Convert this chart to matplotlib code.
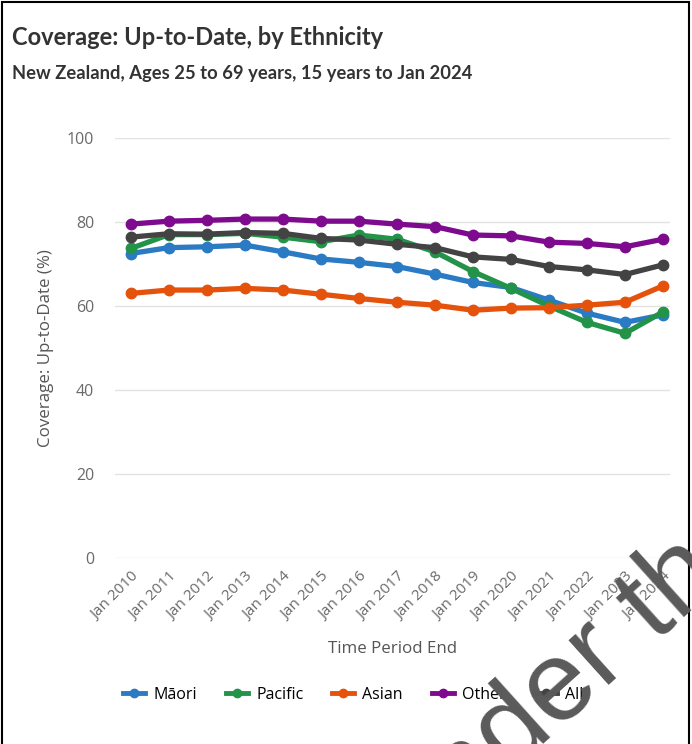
import matplotlib
matplotlib.use("Agg")
import matplotlib.pyplot as plt
from matplotlib.lines import Line2D
import numpy as np

# data
periods = ["Jan 2010", "Jan 2011", "Jan 2012", "Jan 2013", "Jan 2014", "Jan 2015",
           "Jan 2016", "Jan 2017", "Jan 2018", "Jan 2019", "Jan 2020", "Jan 2021",
           "Jan 2022", "Jan 2023", "Jan 2024"]
maori = [72.5, 73.9, 74.1, 74.5, 72.9, 71.2, 70.4, 69.4, 67.6, 65.6, 64.4, 61.4, 58.3, 56.1, 57.9]
pacific = [73.7, 77.0, 77.0, 77.3, 76.4, 75.3, 76.9, 75.9, 72.9, 68.2, 64.2, 60.0, 56.1, 53.5, 58.6]
asian = [63.0, 63.8, 63.8, 64.2, 63.8, 62.8, 61.8, 60.9, 60.2, 59.0, 59.5, 59.6, 60.2, 60.9, 64.8]
other = [79.5, 80.2, 80.4, 80.7, 80.7, 80.2, 80.2, 79.5, 78.9, 76.9, 76.7, 75.2, 74.9, 74.1, 75.9]
all_eth = [76.4, 77.2, 77.1, 77.5, 77.3, 76.1, 75.7, 74.7, 73.9, 71.7, 71.1, 69.4, 68.6, 67.5, 69.8]

names = ["Māori", "Pacific", "Asian", "Other", "All"]
series = [maori, pacific, asian, other, all_eth]
colors = ["#2a7ac4", "#23934a", "#e4520c", "#7e0a8e", "#434343"]

fig = plt.figure(figsize=(6.92, 7.44), dpi=100)
ax = fig.add_axes([0.166, 0.25, 0.802, 0.5645])

x = np.arange(len(periods))
for vals, c in zip(series, colors):
    ax.plot(x, vals, color=c, lw=3.8, marker="o", ms=7.5, solid_capstyle="round")

ax.set_xlim(-0.42, 14.18)
ax.set_ylim(0, 100)
ax.set_yticks([0, 20, 40, 60, 80, 100])
ax.grid(axis="y", color="#e3e3e3", lw=1)
ax.set_axisbelow(True)
for s in ax.spines.values():
    s.set_visible(False)

ax.set_xticks(x)
ax.set_xticklabels(periods, rotation=45, ha="right", rotation_mode="anchor",
                   fontsize=11, color="#6a6a6a", family="Open Sans")
ax.tick_params(axis="x", length=0, pad=8)
ax.tick_params(axis="y", length=0, pad=15, labelsize=11.5, labelcolor="#6a6a6a")
for t in ax.get_yticklabels():
    t.set_family("Open Sans")

ax.set_ylabel("Coverage: Up-to-Date (%)", fontsize=12.2, color="#555555",
              family="Open Sans", labelpad=9)
ax.set_xlabel("Time Period End", fontsize=12.2, color="#555555",
              family="Open Sans", labelpad=13)

fig.text(0.017, 0.949, "Coverage: Up-to-Date, by Ethnicity", fontsize=17,
         fontweight="bold", color="#333333", family="Lato", va="center")
fig.text(0.017, 0.901, "New Zealand, Ages 25 to 69 years, 15 years to Jan 2024",
         fontsize=13.2, fontweight="bold", color="#333333", family="Lato", va="center")

handles = [Line2D([0], [0], color=c, lw=3.5, marker="o", ms=6) for c in colors]
fig.legend(handles, names, loc="center left", bbox_to_anchor=(0.157, 0.066),
           ncol=5, frameon=False, handlelength=1.4,
           columnspacing=1.8, handletextpad=0.5,
           prop={"family": "Open Sans", "size": 11.5})

# border around the screenshot
fig.add_artist(plt.Rectangle((0.003, -0.01), 0.992, 1.007, fill=False,
                             edgecolor="black", lw=1.5, transform=fig.transFigure))

# watermark partly visible at bottom right
fig.text(0.521, -0.147, "under the", fontsize=82, rotation=42, color="#5a5a5a",
         family="Liberation Sans", ha="left", va="baseline", zorder=10)

fig.savefig("out.png", dpi=100)
